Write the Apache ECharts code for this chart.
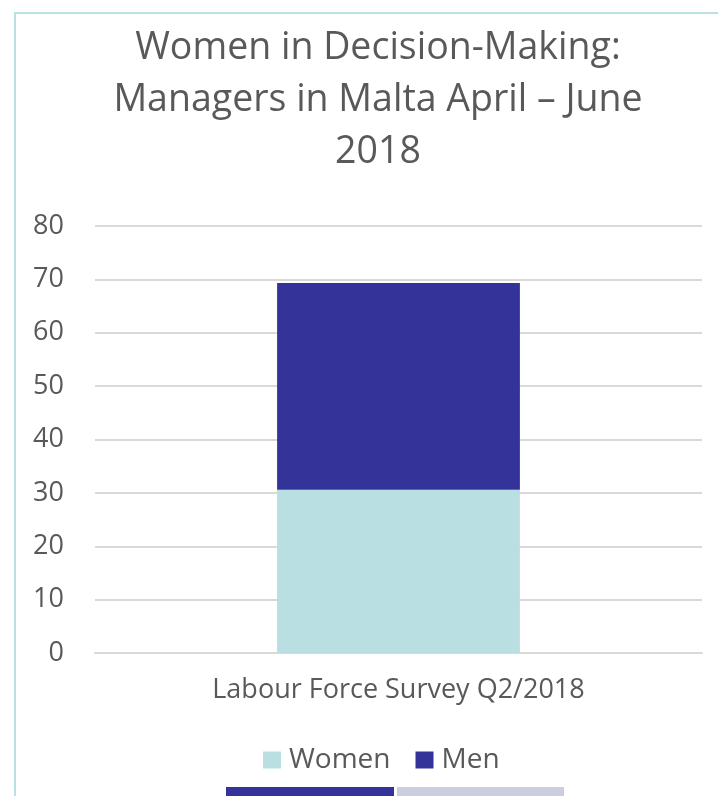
<!DOCTYPE html>
<html>
<head>
<meta charset="utf-8">
<title>Women in Decision-Making</title>
<script src="https://cdn.jsdelivr.net/npm/echarts@6/dist/echarts.min.js"></script>
<style>
  html, body { margin: 0; padding: 0; background: #fff; }
  #chart { width: 718px; height: 796px; }
</style>
</head>
<body>
<div id="chart"></div>
<script>
  const categories = ["Labour Force Survey Q2/2018"];
  const women = [30.6];
  const men = [38.7];
  const yTicks = { min: 0, max: 80, interval: 10 };

  const font = "'Open Sans', sans-serif";
  const textColor = "#595959";

  const chart = echarts.init(document.getElementById("chart"), null, { renderer: "canvas" });

  chart.setOption({
    animation: false,
    backgroundColor: "#ffffff",
    title: {
      text: "Women in Decision-Making:\nManagers in Malta April \u2013 June\n2018",
      left: 373,
      top: 17,
      textAlign: "center",
      textStyle: {
        fontFamily: font,
        fontSize: 37.5,
        fontWeight: "normal",
        color: textColor,
        lineHeight: 52
      }
    },
    grid: { left: 95, right: 16, top: 226, bottom: 143 },
    legend: {
      left: 258,
      top: 741,
      itemWidth: 18,
      itemHeight: 17,
      itemGap: 25,
      icon: "rect",
      textStyle: { fontFamily: font, fontSize: 28, color: textColor, padding: [0, 0, 0, 3] },
      data: ["Women", "Men"]
    },
    xAxis: {
      type: "category",
      data: categories,
      axisLine: { lineStyle: { color: "#d9d9d9", width: 2 } },
      axisTick: { show: false },
      axisLabel: { fontFamily: font, fontSize: 27, color: textColor, margin: 24 }
    },
    yAxis: {
      type: "value",
      min: yTicks.min,
      max: yTicks.max,
      interval: yTicks.interval,
      axisLine: { show: false },
      axisTick: { show: false },
      splitLine: { lineStyle: { color: "#d9d9d9", width: 2 } },
      axisLabel: { fontFamily: font, fontSize: 27, color: textColor, margin: 31 }
    },
    series: [
      {
        name: "Women",
        type: "bar",
        stack: "total",
        barWidth: "40%",
        itemStyle: { color: "#b9dfe2" },
        data: women
      },
      {
        name: "Men",
        type: "bar",
        stack: "total",
        barWidth: "40%",
        itemStyle: { color: "#333399" },
        data: men
      }
    ],
    graphic: [
      {
        type: "rect",
        shape: { x: 15, y: 13, width: 760, height: 820 },
        style: { fill: "none", stroke: "#b9e0e4", lineWidth: 2 },
        silent: true
      },
      {
        type: "rect",
        shape: { x: 226, y: 787, width: 168, height: 12 },
        style: { fill: "#333399" },
        silent: true
      },
      {
        type: "rect",
        shape: { x: 397, y: 787, width: 167, height: 12 },
        style: { fill: "#cdcde0" },
        silent: true
      }
    ]
  });

  window.addEventListener("resize", () => chart.resize());
</script>
</body>
</html>
